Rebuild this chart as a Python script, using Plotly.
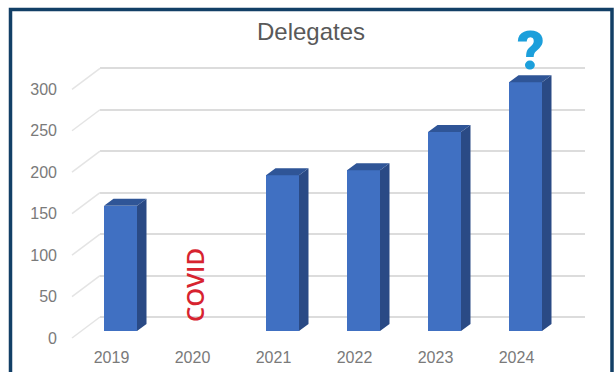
import plotly.graph_objects as go

# Chart data
years = ["2019", "2020", "2021", "2022", "2023", "2024"]
delegates = [151, None, 188, 194, 240, 300]
y_ticks = [0, 50, 100, 150, 200, 250, 300]

# Drawing geometry of the faux-3D box, in page pixels
W, H = 615, 372
BAR_X0, STEP = 120.5, 81.0      # centre of the first bar, spacing of categories
BAR_W = 33.0
PX_PER_UNIT = 0.829
BAR_BASE = 331.0                # value 0 on the plane holding the bars
BACK_BASE = 317.0               # value 0 on the back wall
FRONT_BASE = 338.0              # value 0 on the front edge
FRONT_SHIFT_X = -9.0            # year labels sit left of the bars
BACK_LEFT, BACK_RIGHT = 100.0, 585.0
FRONT_LEFT = 72.0
DEPTH_X, DEPTH_Y = 9.5, 7.0     # side and top faces of a bar

BLUE_FRONT = "#4070c2"
BLUE_SIDE = "#2a4a85"
BLUE_TOP = "#2f5597"
GRID = "#dcdcdc"
TICK_TEXT = "#7a7a7a"
FRAME = "#123f66"


def y_range(base):
    # Value range that puts value 0 at `base` on a full-height axis
    return [(base - H) / PX_PER_UNIT, base / PX_PER_UNIT]


def x_range(x0):
    # Category range that puts category 0 at pixel `x0` on a full-width axis
    return [(0 - x0) / STEP, (W - x0) / STEP]


dx = DEPTH_X / STEP
dy = DEPTH_Y / PX_PER_UNIT
half = BAR_W / STEP / 2

fig = go.Figure()

# Back wall: its gridlines come from the y axis of the first subplot
fig.add_trace(go.Scatter(x=[0], y=[0], mode="none", showlegend=False, hoverinfo="skip",
                         xaxis="x", yaxis="y"))

# Floor and wall connectors running from the front edge to the back wall
conn_x, conn_y = [], []
for v in y_ticks:
    conn_x += [(FRONT_LEFT - BAR_X0) / STEP, (BACK_LEFT - BAR_X0) / STEP, None]
    conn_y += [v + (BAR_BASE - FRONT_BASE) / PX_PER_UNIT,
               v + (BAR_BASE - BACK_BASE) / PX_PER_UNIT, None]
fig.add_trace(go.Scatter(x=conn_x, y=conn_y, mode="lines", showlegend=False, hoverinfo="skip",
                         line=dict(color="#e4e4e4", width=1.5), xaxis="x2", yaxis="y2"))

# Side and top faces of each bar
side_x, side_y, top_x, top_y = [], [], [], []
for i, v in enumerate(delegates):
    if v is None:
        continue
    r, l = i + half, i - half
    side_x += [r, r + dx, r + dx, r, r, None]
    side_y += [0, dy, v + dy, v, 0, None]
    top_x += [l, l + dx, r + dx, r, l, None]
    top_y += [v, v + dy, v + dy, v, v, None]
fig.add_trace(go.Scatter(x=side_x, y=side_y, mode="lines", fill="toself", fillcolor=BLUE_SIDE,
                         line=dict(width=0), showlegend=False, hoverinfo="skip",
                         xaxis="x2", yaxis="y2"))
fig.add_trace(go.Scatter(x=top_x, y=top_y, mode="lines", fill="toself", fillcolor=BLUE_TOP,
                         line=dict(width=0), showlegend=False, hoverinfo="skip",
                         xaxis="x2", yaxis="y2"))

# Front faces of the bars
fig.add_trace(go.Bar(x=list(range(len(years))), y=delegates, width=BAR_W / STEP,
                     marker=dict(color=BLUE_FRONT, line=dict(width=0)),
                     showlegend=False, xaxis="x2", yaxis="y2"))

# Invisible trace that carries the front-edge tick labels
fig.add_trace(go.Scatter(x=[0], y=[0], mode="none", showlegend=False, hoverinfo="skip",
                         xaxis="x3", yaxis="y3"))

hidden = dict(visible=False, fixedrange=True)
fig.update_layout(
    width=W, height=H, autosize=False,
    margin=dict(l=0, r=0, t=0, b=0),
    paper_bgcolor="white", plot_bgcolor="rgba(0,0,0,0)",
    showlegend=False, bargap=0,
    font=dict(family="Liberation Sans", color=TICK_TEXT),
    xaxis=dict(domain=[BACK_LEFT / W, BACK_RIGHT / W], range=[0, 1],
               showgrid=False, zeroline=False, showticklabels=False, ticks=""),
    yaxis=dict(domain=[0, 1], range=y_range(BACK_BASE), tickvals=y_ticks,
               showgrid=True, gridcolor=GRID, gridwidth=2, zeroline=False,
               showticklabels=False, ticks="", anchor="x"),
    xaxis2=dict(domain=[0, 1], range=x_range(BAR_X0), **hidden, anchor="y2"),
    yaxis2=dict(domain=[0, 1], range=y_range(BAR_BASE), **hidden, anchor="x2"),
    xaxis3=dict(domain=[0, 1], range=x_range(BAR_X0 + FRONT_SHIFT_X),
                tickvals=list(range(len(years))), ticktext=years,
                tickfont=dict(size=16, color=TICK_TEXT),
                showgrid=False, zeroline=False, ticks="", anchor="free",
                position=(H - 346) / H),
    yaxis3=dict(domain=[0, 1], range=y_range(FRONT_BASE), tickvals=y_ticks,
                tickfont=dict(size=16, color=TICK_TEXT),
                showgrid=False, zeroline=False, ticks="", anchor="free",
                position=57 / W),
    title=dict(text="Delegates", x=311 / W, xanchor="center", y=1 - 32 / H, yanchor="middle",
               font=dict(family="Liberation Sans", size=24, color="#595959")),
    annotations=[
        dict(text="COVID", xref="paper", yref="paper", x=194 / W, y=1 - 285 / H,
             xanchor="center", yanchor="middle", textangle=-90, showarrow=False,
             font=dict(family="Open Sans", size=24, weight=600, color="#d7232f")),
        dict(text="?", xref="paper", yref="paper", x=531 / W, y=1 - 50 / H,
             xanchor="center", yanchor="middle", showarrow=False,
             font=dict(family="Roboto", size=54, weight=900, color="#1c9fdb")),
    ],
    shapes=[
        dict(type="rect", xref="paper", yref="paper", layer="above",
             x0=10.5 / W, x1=612 / W, y0=-0.05, y1=1 - 9.5 / H,
             line=dict(color=FRAME, width=3.5), fillcolor="rgba(0,0,0,0)"),
    ],
)

fig.write_html("out.html", config=dict(displayModeBar=False))
